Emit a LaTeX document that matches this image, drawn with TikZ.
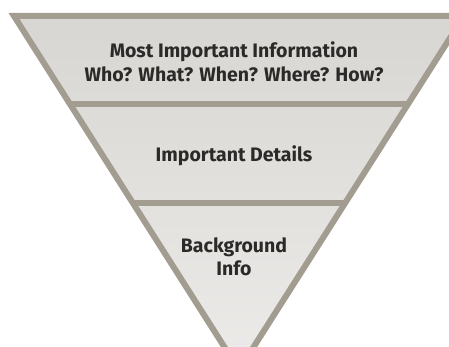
\documentclass[tikz,border=0pt]{standalone}
\usepackage{fontspec}
\setmainfont{Fira Sans}
\definecolor{rim}{HTML}{A39C91}
\definecolor{fillTop}{HTML}{D8D6D2}
\definecolor{fillBot}{HTML}{ECEBE9}
\definecolor{ink}{HTML}{2B2A28}
\tikzset{
  label/.style={text=ink, font=\bfseries\fontsize{19.5}{23.5}\selectfont, align=center},
  rimline/.style={draw=rim, line width=6pt, line join=miter}
}
\begin{document}
\begin{tikzpicture}[x=1pt, y=-1pt]
    \useasboundingbox (0,0) rectangle (449,347);
    \clip (0,0) rectangle (449,347);
    % Funil invertido
    \coordinate (TL) at (14,16);
    \coordinate (TR) at (464,16);
    \coordinate (A) at (239,370);
    \coordinate (L1) at (70,104);
    \coordinate (R1) at (408,104);
    \coordinate (L2) at (133,203);
    \coordinate (R2) at (345,203);

    \shade[top color=fillTop, bottom color=fillBot] (TL) -- (TR) -- (A) -- cycle;
    \draw[rimline] (L1) -- (R1);
    \draw[rimline] (L2) -- (R2);
    \draw[rimline] (TL) -- (TR) -- (A) -- cycle;

    \node[label] (most) at (234,62) {Most Important Information\\Who? What? When? Where? How?};
    \node[label] (details) at (234,156) {Important Details};
    \node[label] (background) at (234,257) {Background\\Info};
\end{tikzpicture}
\end{document}
